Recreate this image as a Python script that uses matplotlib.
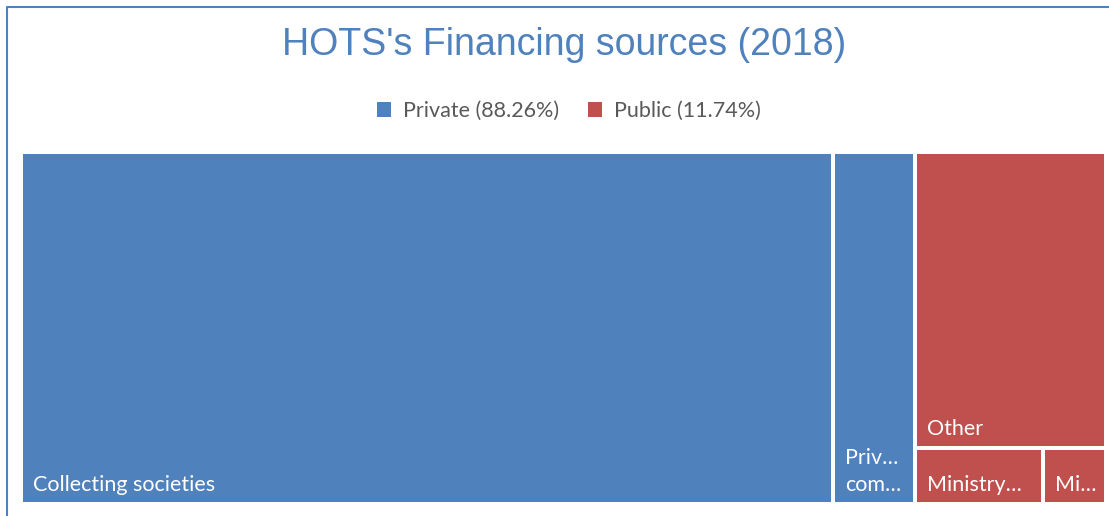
import matplotlib.pyplot as plt
from matplotlib.patches import Rectangle, Patch

# treemap data (values read from tile areas)
legend_labels = ['Private (88.26%)', 'Public (11.74%)']
group_colors = ['#4F81BD', '#C0504D']

private_labels = ['Collecting societies', 'Priv…\ncom…']
private_values = [74.8, 7.5]

public_labels = ['Other', 'Ministry…', 'Mi…']
public_values = [14.8, 1.87, 0.93]

W, H = 1085, 352   # treemap box in pixels
GAP = 2


def draw_tile(ax, x, y, w, h, color, label):
    ax.add_patch(Rectangle((x + GAP, y + GAP), w - 2 * GAP, h - 2 * GAP,
                           facecolor=color, edgecolor='none'))
    ax.text(x + GAP + 10, y + h - GAP - 7, label, color='white',
            fontsize=15.5, family='Lato', ha='left', va='bottom',
            linespacing=1.45)


fig = plt.figure(figsize=(11.09, 5.16), dpi=100)
ax = fig.add_axes([21 / 1109, 12 / 516, W / 1109, H / 516])
ax.set_xlim(0, W)
ax.set_ylim(H, 0)
ax.axis('off')

total = sum(private_values) + sum(public_values)

# private group: columns side by side
pw = W * sum(private_values) / total
x = 0
for lab, v in zip(private_labels, private_values):
    w = pw * v / sum(private_values)
    draw_tile(ax, x, 0, w, H, group_colors[0], lab)
    x += w

# public group: first item on top, the rest in a bottom row
qw = W - pw
top_h = H * public_values[0] / sum(public_values)
draw_tile(ax, pw, 0, qw, top_h, group_colors[1], public_labels[0])
rest = sum(public_values[1:])
x = pw
for lab, v in zip(public_labels[1:], public_values[1:]):
    w = qw * v / rest
    draw_tile(ax, x, top_h, w, H - top_h, group_colors[1], lab)
    x += w

fig.text(0.5086, 1 - 55 / 516, "HOTS's Financing sources (2018)",
         ha='center', va='baseline', fontsize=27, color='#4F81BD',
         family='Liberation Sans')

handles = [Patch(facecolor=c, edgecolor='none') for c in group_colors]
fig.legend(handles, legend_labels, loc='center', ncol=2,
           bbox_to_anchor=(0.513, 1 - 111 / 516), frameon=False,
           prop={'family': 'Lato', 'size': 15.5}, labelcolor='#595959',
           handlelength=0.65, handleheight=0.65, handletextpad=0.6,
           columnspacing=1.3)

# chart border (top and left visible)
fig.add_artist(plt.Line2D([6.5 / 1109, 6.5 / 1109, 1.0], [0, 1 - 7 / 516, 1 - 7 / 516],
                          color='#4F81BD', linewidth=1.5))

fig.savefig('out.png', dpi=100)
